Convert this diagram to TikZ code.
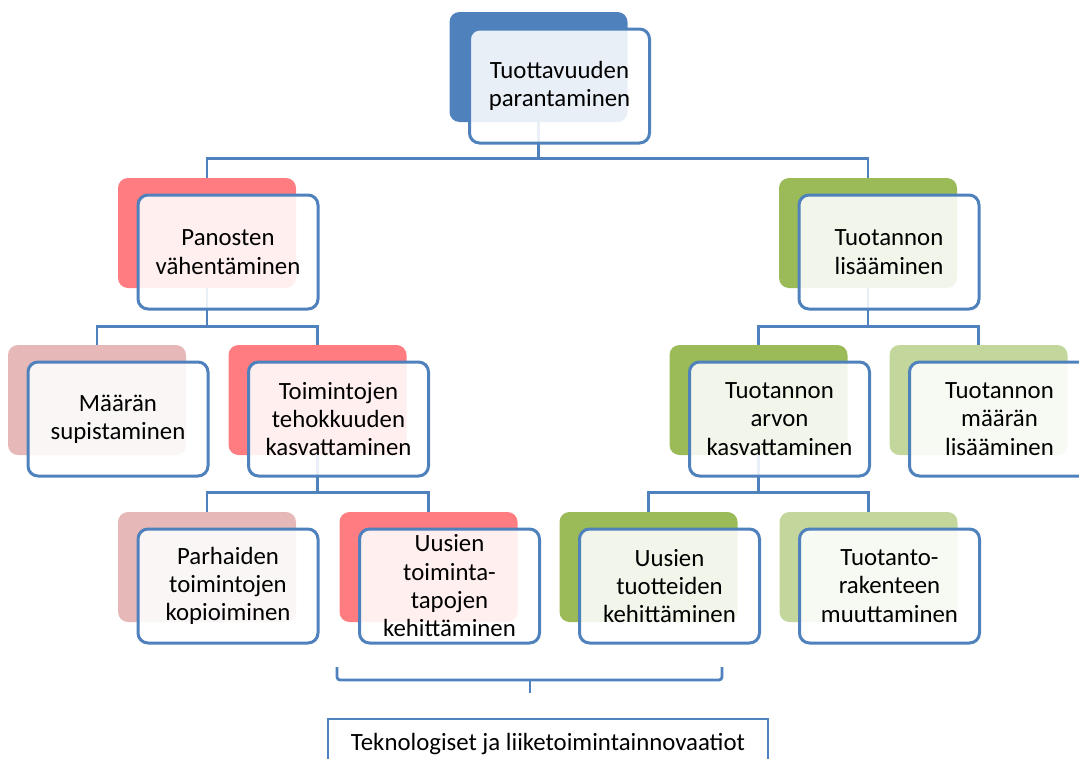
\documentclass[tikz,border=0pt]{standalone}
\usepackage{fontspec}
\setmainfont{Carlito}
\definecolor{cblue}{HTML}{4F81BD}
\definecolor{cred}{HTML}{FF7C80}
\definecolor{cpink}{HTML}{E6B9B8}
\definecolor{cgreen}{HTML}{9BBB59}
\definecolor{clgreen}{HTML}{C3D69B}
\tikzset{
	backbox/.style = {rounded corners=10pt, minimum width=178pt, minimum height=110pt, inner sep=0pt},
	frontbox/.style = {draw=cblue, line width=3pt, rounded corners=10pt, fill=white, fill opacity=0.88, text opacity=1,
		minimum width=180pt, minimum height=114pt, inner sep=0pt, align=center, xshift=21pt, yshift=-19pt,
		font=\fontsize{24.8}{28.3}\selectfont},
	conn/.style = {draw=cblue, line width=2.8pt},
	innobox/.style = {draw=cblue, line width=2.4pt, fill=white, minimum width=440pt, minimum height=50pt,
		inner sep=0pt, font=\fontsize{24.8}{30}\selectfont}
}
\begin{document}
\begin{tikzpicture}[x=1pt, y=-1pt]
			\clip (0,0) rectangle (1079,758);
			
			% Back boxes
			\node[backbox, fill=cblue] (b0) at (538.5,67) {};
			\node[backbox, fill=cred] (b1) at (207,233) {};
			\node[backbox, fill=cgreen] (b2) at (868,233) {};
			\node[backbox, fill=cpink] (b3) at (97,400) {};
			\node[backbox, fill=cred] (b4) at (317.5,400) {};
			\node[backbox, fill=cgreen] (b5) at (758.5,400) {};
			\node[backbox, fill=clgreen] (b6) at (978.5,400) {};
			\node[backbox, fill=cpink] (b7) at (207,567) {};
			\node[backbox, fill=cred] (b8) at (428.5,567) {};
			\node[backbox, fill=cgreen] (b9) at (648.5,567) {};
			\node[backbox, fill=clgreen] (b10) at (868.5,567) {};
			
			% Connectors
			\draw[conn] (b0.south) -- ++(0,36) -| (b1.north);
			\draw[conn] (b0.south) -- ++(0,36) -| (b2.north);
			\draw[conn] (b1.south) -- ++(0,38) -| (b3.north);
			\draw[conn] (b1.south) -- ++(0,38) -| (b4.north);
			\draw[conn] (b2.south) -- ++(0,38) -| (b5.north);
			\draw[conn] (b2.south) -- ++(0,38) -| (b6.north);
			\draw[conn] (b4.south) -- ++(0,37) -| (b7.north);
			\draw[conn] (b4.south) -- ++(0,37) -| (b8.north);
			\draw[conn] (b5.south) -- ++(0,37) -| (b9.north);
			\draw[conn] (b5.south) -- ++(0,37) -| (b10.north);
			
			% Front boxes
			\node[frontbox] (f0) at (b0) {Tuottavuuden\\parantaminen};
			\node[frontbox] (f1) at (b1) {Panosten\\vähentäminen};
			\node[frontbox] (f2) at (b2) {Tuotannon\\lisääminen};
			\node[frontbox] (f3) at (b3) {Määrän\\supistaminen};
			\node[frontbox] (f4) at (b4) {Toimintojen\\tehokkuuden\\kasvattaminen};
			\node[frontbox] (f5) at (b5) {Tuotannon\\arvon\\kasvattaminen};
			\node[frontbox] (f6) at (b6) {Tuotannon\\määrän\\lisääminen};
			\node[frontbox] (f7) at (b7) {Parhaiden\\toimintojen\\kopioiminen};
			\node[frontbox] (f8) at (b8) {Uusien\\toiminta-\\tapojen\\kehittäminen};
			\node[frontbox] (f9) at (b9) {Uusien\\tuotteiden\\kehittäminen};
			\node[frontbox] (f10) at (b10) {Tuotanto-\\rakenteen\\muuttaminen};
			
			% Brace
			\coordinate (bl) at (337,667);
			\coordinate (br) at (722,667);
			\coordinate (bm) at (530,680);
			\draw[conn, rounded corners=3pt] (bl) -- (337,680) -- (722,680) -- (br);
			\draw[conn] (bm) -- ++(0,13);
			
			% Innovations
			\node[innobox] (inno) at (548,744) {Teknologiset ja liiketoimintainnovaatiot};
		\end{tikzpicture}
\end{document}
